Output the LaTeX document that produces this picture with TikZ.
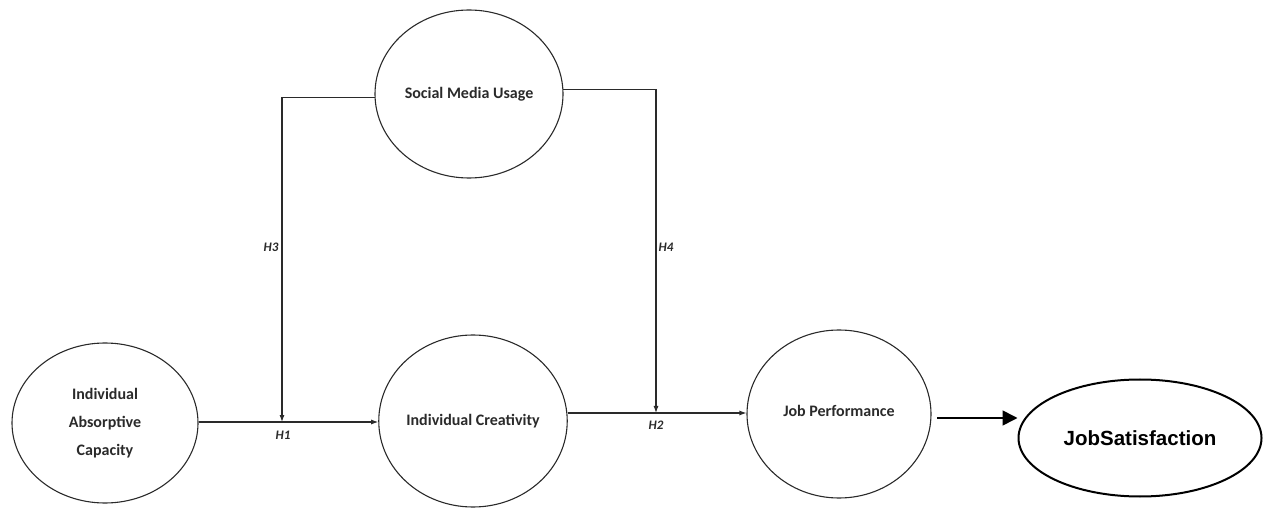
\documentclass[tikz,border=0pt]{standalone}
\usepackage{fontspec}
\setmainfont{Carlito}
\newfontfamily\arialfont{Liberation Sans}
\usetikzlibrary{shapes.geometric,arrows.meta}
\definecolor{ink}{HTML}{2A2A2A}
\begin{document}
\begin{tikzpicture}[x=1pt,y=-1pt,
  construct/.style={ellipse,draw=ink,line width=1.1pt,inner sep=0pt,
    font=\fontsize{16}{28}\selectfont\bfseries,text=ink,align=center},
  link/.style={draw=ink,line width=1.1pt,-{Latex[length=7pt,width=5pt]}},
  hyp/.style={font=\fontsize{13}{15}\selectfont\bfseries\itshape,text=ink,inner sep=1pt}]
\useasboundingbox (0,0) rectangle (1277,510);

% latent constructs
\node[construct,minimum width=188pt,minimum height=168pt] (smu) at (469,94) {Social Media Usage};
\node[construct,minimum width=186pt,minimum height=160pt] (iac) at (105,423) {Individual\\Absorptive\\Capacity};
\node[construct,minimum width=188pt,minimum height=172pt] (ic) at (473,421) {\raisebox{2pt}{Individual Creativity}};
\node[construct,minimum width=184pt,minimum height=168pt] (jp) at (839,414) {\raisebox{6pt}{Job Performance}};
\node[ellipse,draw=black,line width=2pt,inner sep=0pt,minimum width=243pt,minimum height=117pt,
  font=\arialfont\fontsize{20.5}{24}\selectfont\bfseries] (js) at (1140,438) {JobSatisfaction};

% points where the moderating paths meet the main paths
\coordinate (h1) at (282,422);
\coordinate (h2) at (656,413);
\coordinate (jpout) at (937,418);

% main paths
\draw[link] (iac.east |- h1) -- (ic.west |- h1);
\draw[link] (ic.east |- h2) -- (jp.west |- h2);
\draw[draw=black,line width=1.6pt,-{Triangle[length=15pt,width=15pt]}] (jpout) -- (js.west |- jpout);

% moderating paths
\draw[link] (smu.182) -| (h1);
\draw[link] (smu.3) -| (h2);

% hypothesis labels
\node[hyp] (lh1) at (283,435) {H1};
\node[hyp] (lh2) at (656,425) {H2};
\node[hyp] (lh3) at (271,247) {H3};
\node[hyp] (lh4) at (666,247) {H4};
\end{tikzpicture}
\end{document}
